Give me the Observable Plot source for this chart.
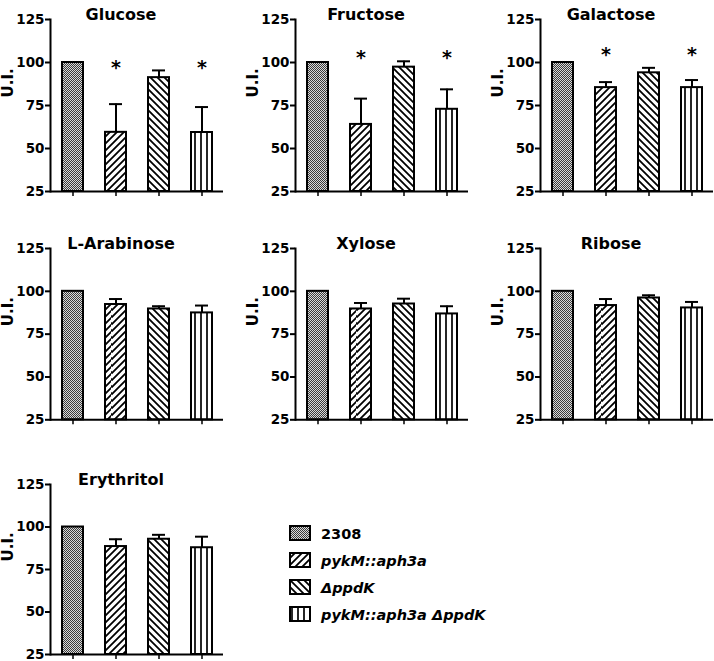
<!DOCTYPE html>
<html><head><meta charset="utf-8">
<script src="https://cdn.jsdelivr.net/npm/d3@7"></script>
<script src="https://cdn.jsdelivr.net/npm/@observablehq/plot@0.6"></script>
<style>
body{margin:0;background:#fff;width:714px;height:661px;overflow:hidden;font-family:"DejaVu Sans",sans-serif;color:#000;}
#root{position:relative;width:714px;height:661px;}
.panel{position:absolute;}
.panel svg{overflow:visible;}
#legend{position:absolute;left:289px;top:520px;}
.lrow{display:flex;align-items:center;height:27px;}
.lrow span{margin-left:9px;font-weight:bold;font-size:14.5px;}
.lrow span.it{font-style:italic;}
</style></head><body>
<svg width="0" height="0" style="position:absolute">
<defs>
 <pattern id="pat-wt" patternUnits="userSpaceOnUse" width="2" height="2">
   <rect width="2" height="2" fill="#dadada"/>
   <rect width="1" height="1" fill="#3c3c3c"/>
   <rect x="1" y="1" width="1" height="1" fill="#3c3c3c"/>
 </pattern>
 <pattern id="pat-pyk" patternUnits="userSpaceOnUse" width="7" height="7">
   <rect width="7" height="7" fill="#fff"/>
   <path d="M-1,1 l2,-2 M0,7 l7,-7 M6,8 l2,-2" stroke="#000" stroke-width="1.8"/>
 </pattern>
 <pattern id="pat-ppdk" patternUnits="userSpaceOnUse" width="7" height="7">
   <rect width="7" height="7" fill="#fff"/>
   <path d="M-1,6 l2,2 M0,0 l7,7 M6,-1 l2,2" stroke="#000" stroke-width="1.8"/>
 </pattern>
 <pattern id="pat-dbl" patternUnits="userSpaceOnUse" width="6" height="6">
   <rect width="6" height="6" fill="#fff"/>
   <path d="M3,0 v6" stroke="#000" stroke-width="1.7"/>
 </pattern>
</defs></svg>
<div id="root"></div>
<script>
// ---- data ----
const strains = ["2308", "pykM::aph3a", "ΔppdK", "pykM::aph3a ΔppdK"];
const strainItalic = [false, true, true, true];
const patternUrls = ["url(#pat-wt)", "url(#pat-pyk)", "url(#pat-ppdk)", "url(#pat-dbl)"];
const sugars = ["Glucose", "Fructose", "Galactose", "L-Arabinose", "Xylose", "Ribose", "Erythritol"];
const yTicks = [25, 50, 75, 100, 125];
const yLabel = "U.I.";

const glucoseMean    = [100, 59.4, 91.2, 59.3];
const glucoseSem     = [0, 16.4, 4.2, 14.8];
const fructoseMean   = [100, 64.0, 97.3, 72.8];
const fructoseSem    = [0, 15.0, 3.4, 11.6];
const galactoseMean  = [100, 85.4, 94.0, 85.4];
const galactoseSem   = [0, 3.2, 2.9, 4.4];
const arabinoseMean  = [100, 92.3, 89.7, 87.4];
const arabinoseSem   = [0, 3.2, 1.6, 4.3];
const xyloseMean     = [100, 89.7, 92.6, 86.8];
const xyloseSem      = [0, 3.5, 3.1, 4.5];
const riboseMean     = [100, 91.7, 96.1, 90.3];
const riboseSem      = [0, 3.8, 1.6, 3.5];
const erythritolMean = [100, 88.5, 92.8, 87.8];
const erythritolSem  = [0, 4.3, 2.6, 6.5];

const means = [glucoseMean, fructoseMean, galactoseMean, arabinoseMean, xyloseMean, riboseMean, erythritolMean];
const sems  = [glucoseSem, fructoseSem, galactoseSem, arabinoseSem, xyloseSem, riboseSem, erythritolSem];

// significance asterisks: which strains, and at which U.I. level per sugar
const starStrains = ["pykM::aph3a", "pykM::aph3a ΔppdK"];
const starSugars  = ["Glucose", "Fructose", "Galactose"];
const starLevels  = [99, 105, 107];

// ---- layout ----
const colLeft = [0, 245, 490];
const rowTop  = [-3, 225.7, 462];
const rowPlotH = [172, 171.3, 170];

const root = document.getElementById("root");

sugars.forEach((sugar, i) => {
  const row = Math.floor(i / 3), col = i % 3;
  const data = strains.map((s, k) => ({strain: s, mean: means[i][k], top: means[i][k] + sems[i][k]}));
  const withErr = data.filter(d => d.top > d.mean);
  const si = starSugars.indexOf(sugar);
  const stars = si >= 0 ? starStrains.map(s => ({strain: s, level: starLevels[si]})) : [];
  const mT = 22, mB = 12, mL = 50, mR = 1;
  const chart = Plot.plot({
    width: 224,
    height: mT + rowPlotH[row] + mB,
    marginTop: mT, marginBottom: mB, marginLeft: mL, marginRight: mR,
    style: {fontFamily: "DejaVu Sans", fontWeight: "bold", fontSize: "13.5px", color: "#000", background: "transparent", overflow: "visible"},
    x: {type: "band", domain: strains, paddingInner: 0.52, paddingOuter: 0.26},
    y: {domain: [25, 125]},
    color: {domain: strains, range: patternUrls},
    marks: [
      Plot.barY(data, {x: "strain", y1: 25, y2: "mean", fill: "strain", stroke: "#000", strokeWidth: 2}),
      Plot.ruleX(withErr, {x: "strain", y1: "mean", y2: "top", stroke: "#000", strokeWidth: 2}),
      Plot.tickY(withErr, {x: "strain", y: "top", stroke: "#000", strokeWidth: 2, inset: 4}),
      Plot.text(stars, {x: "strain", y: "level", text: () => "*", fontSize: 19, fontWeight: "bold", dy: 4}),
      Plot.axisY({ticks: yTicks, tickSize: 5, tickPadding: 1, strokeWidth: 2, label: null}),
      Plot.axisX({tickSize: 5, tickFormat: () => "", strokeWidth: 1.5, label: null}),
      Plot.frame({anchor: "left", stroke: "#000", strokeWidth: 2}),
      Plot.ruleY([25], {stroke: "#000", strokeWidth: 2}),
      Plot.text([sugar], {frameAnchor: "top", dy: -11, dx: -16, fontSize: 16, fontWeight: "bold"}),
      Plot.text([yLabel], {frameAnchor: "left", dx: -42, dy: -8, rotate: -90, fontSize: 15, fontWeight: "bold"})
    ]
  });
  const div = document.createElement("div");
  div.className = "panel";
  div.style.left = colLeft[col] + "px";
  div.style.top = rowTop[row] + "px";
  div.appendChild(chart);
  root.appendChild(div);
});

// ---- legend ----
const legend = document.createElement("div");
legend.id = "legend";
strains.forEach((s, k) => {
  const r = document.createElement("div");
  r.className = "lrow";
  r.innerHTML = `<svg width="23" height="17" style="overflow:visible"><rect x="1" y="1" width="20" height="14" fill="${patternUrls[k]}" stroke="#000" stroke-width="2"/></svg><span class="${strainItalic[k] ? "it" : ""}">${s}</span>`;
  legend.appendChild(r);
});
root.appendChild(legend);
</script>
</body></html>
